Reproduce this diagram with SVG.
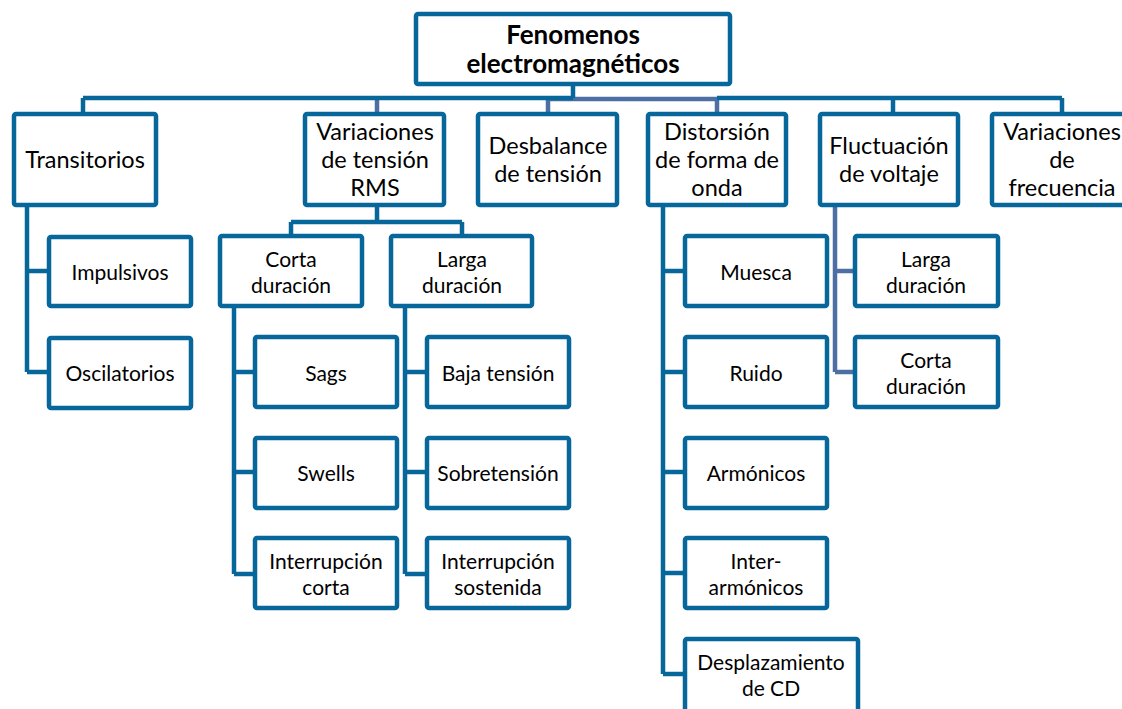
<svg xmlns="http://www.w3.org/2000/svg" width="1122" height="709" viewBox="0 0 1122 709">
<style>
.box{fill:#fff;stroke:#07679b;stroke-width:4.5}
.c{fill:none;stroke:#07679b;stroke-width:4.5}
.s{fill:none;stroke:#4d6fa3;stroke-width:4.5}
text{font-family:Lato,"Liberation Sans",sans-serif;fill:#000;text-anchor:middle;dominant-baseline:central}
.t{font-size:23.5px}
.k{font-size:21px}
.r{font-size:26px;font-weight:bold}
</style>
<rect width="1122" height="709" fill="#fff"/>
<g id="connectors">
<path class="s" d="M548 99H717M377 99V114M548 99V114M717 99V114"/>
<path class="c" d="M573 84V98M83 98H573M717 98H1062M83 98V114M893 98V114M1062 98V114"/>
<path class="c" d="M27 205V372M27 271H49M27 372H49"/>
<path class="c" d="M377 205V222M291 222H462M291 222V236M462 222V236"/>
<path class="c" d="M234 306V574M234 372H255M234 472H255M234 574H255"/>
<path class="c" d="M405 306V574M405 372H427M405 472H427M405 574H427"/>
<path class="c" d="M663 205V674M663 271H685M663 372H685M663 472H685M663 573H685M663 674H685"/>
<path class="s" d="M835 205V372M835 271H855M835 372H855"/>
</g>
<g id="root"><rect class="box" x="416" y="14" width="314" height="70" rx="2"/><text class="r" x="573" y="34">Fenomenos</text><text class="r" x="573" y="63">electromagnéticos</text></g>
<g id="transitorios"><rect class="box" x="14" y="114" width="142" height="91" rx="2"/><text class="t" x="85" y="159">Transitorios</text></g>
<g id="variaciones-rms"><rect class="box" x="305" y="114" width="139" height="91" rx="2"/><text class="t" x="375" y="131">Variaciones</text><text class="t" x="375" y="159">de tensión</text><text class="t" x="375" y="187">RMS</text></g>
<g id="desbalance"><rect class="box" x="478" y="114" width="139" height="91" rx="2"/><text class="t" x="548" y="145">Desbalance</text><text class="t" x="548" y="173">de tensión</text></g>
<g id="distorsion"><rect class="box" x="648" y="114" width="138" height="91" rx="2"/><text class="t" x="717" y="131">Distorsión</text><text class="t" x="717" y="159">de forma de</text><text class="t" x="717" y="187">onda</text></g>
<g id="fluctuacion"><rect class="box" x="820" y="114" width="138" height="91" rx="2"/><text class="t" x="889" y="145">Fluctuación</text><text class="t" x="889" y="173">de voltaje</text></g>
<g id="variaciones-frecuencia"><rect class="box" x="992" y="114" width="140" height="91" rx="2"/><text class="t" x="1062" y="131">Variaciones</text><text class="t" x="1062" y="159">de</text><text class="t" x="1062" y="187">frecuencia</text></g>
<g id="impulsivos"><rect class="box" x="49" y="237" width="142" height="69" rx="2"/><text class="k" x="120" y="271">Impulsivos</text></g>
<g id="oscilatorios"><rect class="box" x="49" y="338" width="142" height="70" rx="2"/><text class="k" x="120" y="372">Oscilatorios</text></g>
<g id="corta-rms"><rect class="box" x="220" y="236" width="142" height="70" rx="2"/><text class="k" x="291" y="258">Corta</text><text class="k" x="291" y="284">duración</text></g>
<g id="larga-rms"><rect class="box" x="391" y="236" width="141" height="70" rx="2"/><text class="k" x="462" y="258">Larga</text><text class="k" x="462" y="284">duración</text></g>
<g id="sags"><rect class="box" x="255" y="337" width="142" height="70" rx="2"/><text class="k" x="326" y="372">Sags</text></g>
<g id="swells"><rect class="box" x="255" y="438" width="142" height="70" rx="2"/><text class="k" x="326" y="472">Swells</text></g>
<g id="interrupcion-corta"><rect class="box" x="255" y="538" width="142" height="70" rx="2"/><text class="k" x="326" y="560">Interrupción</text><text class="k" x="326" y="586">corta</text></g>
<g id="baja-tension"><rect class="box" x="427" y="337" width="142" height="70" rx="2"/><text class="k" x="498" y="372">Baja tensión</text></g>
<g id="sobretension"><rect class="box" x="427" y="438" width="142" height="70" rx="2"/><text class="k" x="498" y="472">Sobretensión</text></g>
<g id="interrupcion-sostenida"><rect class="box" x="427" y="538" width="142" height="70" rx="2"/><text class="k" x="498" y="560">Interrupción</text><text class="k" x="498" y="586">sostenida</text></g>
<g id="muesca"><rect class="box" x="685" y="236" width="142" height="70" rx="2"/><text class="k" x="756" y="271">Muesca</text></g>
<g id="ruido"><rect class="box" x="685" y="337" width="142" height="70" rx="2"/><text class="k" x="756" y="372">Ruido</text></g>
<g id="armonicos"><rect class="box" x="685" y="438" width="142" height="70" rx="2"/><text class="k" x="756" y="472">Armónicos</text></g>
<g id="interarmonicos"><rect class="box" x="685" y="538" width="142" height="70" rx="2"/><text class="k" x="756" y="560">Inter-</text><text class="k" x="756" y="586">armónicos</text></g>
<g id="desplazamiento"><rect class="box" x="685" y="639" width="173" height="80" rx="2"/><text class="k" x="771" y="661">Desplazamiento</text><text class="k" x="771" y="687">de CD</text></g>
<g id="larga-fluct"><rect class="box" x="855" y="236" width="143" height="70" rx="2"/><text class="k" x="926" y="258">Larga</text><text class="k" x="926" y="284">duración</text></g>
<g id="corta-fluct"><rect class="box" x="855" y="337" width="143" height="70" rx="2"/><text class="k" x="926" y="359">Corta</text><text class="k" x="926" y="385">duración</text></g>
</svg>
